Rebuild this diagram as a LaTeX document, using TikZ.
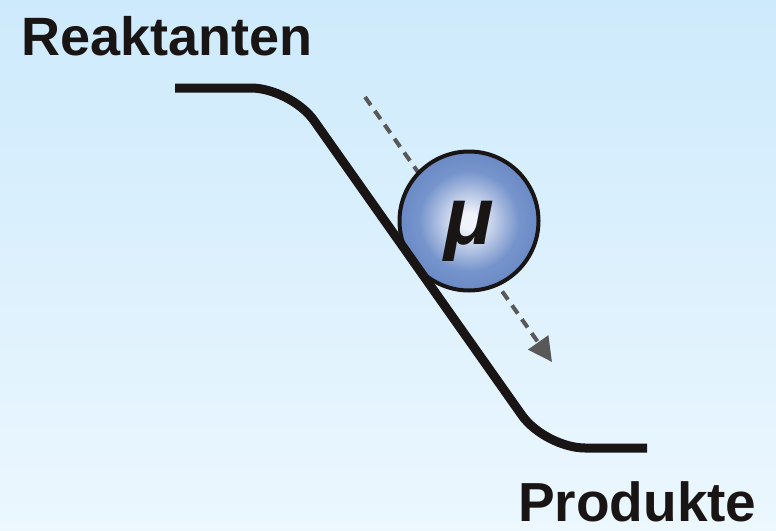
\documentclass[tikz,border=0pt]{standalone}
\usepackage{fontspec}
\setmainfont{Liberation Sans}
\usetikzlibrary{arrows.meta}
\definecolor{bgtop}{RGB}{205,234,252}
\definecolor{bgbot}{RGB}{236,247,254}
\definecolor{ink}{RGB}{24,21,20}
\definecolor{arrowgray}{RGB}{88,88,88}
\definecolor{ballin}{RGB}{240,243,250}
\definecolor{ballmid}{RGB}{118,148,204}
\definecolor{ballout}{RGB}{66,104,176}
\pgfdeclareradialshading{ballshade}{\pgfpoint{0bp}{0bp}}{color(0bp)=(ballin); color(3bp)=(ballin); color(18bp)=(ballmid); color(50bp)=(ballout)}
\tikzset{
  label text/.style={font=\bfseries\fontsize{54}{54}\selectfont, text=ink, inner sep=0pt, anchor=base west},
  slope/.style={draw=ink, line width=9pt, rounded corners=40pt},
  flow arrow/.style={draw=arrowgray, line width=4pt, dash pattern=on 10pt off 7pt, -{Triangle[length=24pt,width=24pt]}},
  ballstyle/.style={circle, draw=ink, line width=4pt, shading=ballshade, minimum size=139pt, inner sep=0pt},
}
\begin{document}
\begin{tikzpicture}[x=1pt,y=-1pt]
\fill[top color=bgtop,bottom color=bgbot] (0,0) rectangle (776,530);
\useasboundingbox (0,0) rectangle (776,530);
\coordinate (s1) at (175,88);
\coordinate (c1) at (291,88);
\coordinate (c2) at (545,448);
\coordinate (s2) at (647,448);
\coordinate (a1) at (365,97);
\coordinate (a2) at (552,362);
\draw[flow arrow] (a1) -- (a2);
\node[ballstyle] (ball) at (469,221) {};
\node[font=\bfseries\itshape\fontsize{82}{82}\selectfont, text=ink, inner sep=0pt] (mu) at (469,231) {μ};
\draw[slope] (s1) -- (c1) -- (c2) -- (s2);
\node[label text] (reak) at (21,55) {Reaktanten};
\node[label text, font=\bfseries\fontsize{55}{55}\selectfont] (prod) at (518,521) {Produkte};
\end{tikzpicture}
\end{document}
